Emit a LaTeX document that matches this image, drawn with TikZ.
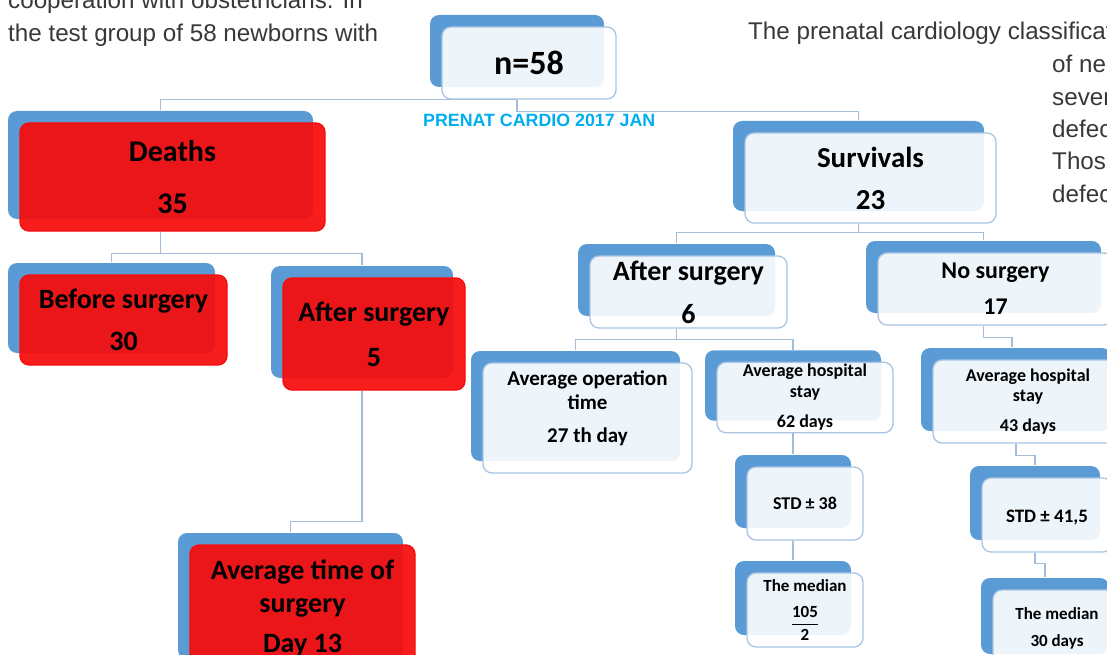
\documentclass[tikz,border=0pt]{standalone}
\usepackage{fontspec}
\usepackage{amsmath}
\usetikzlibrary{shadows,backgrounds}
\newfontfamily\boxfont{Carlito}
\newfontfamily\pagefont{Liberation Sans}
\definecolor{backblue}{HTML}{5B9BD5}
\definecolor{paleedge}{HTML}{A9C4E2}
\definecolor{linkblue}{HTML}{A3BCDA}
\definecolor{deathred}{HTML}{F70C0C}
\definecolor{stampcyan}{HTML}{00AEEF}
\definecolor{pagegray}{HTML}{383838}

\begin{document}
\begin{tikzpicture}[x=1pt,y=-1pt]
\tikzstyle{box}=[rounded corners=9pt, line width=1.3pt, align=center, inner sep=2pt,
  general shadow={fill=backblue, fill opacity=1, shadow xshift=-12pt, shadow yshift=12pt},
  fill opacity=0.9, text opacity=1]
\tikzstyle{pale}=[box, fill=white, draw=paleedge]
\tikzstyle{dead}=[box, fill=deathred, draw=deathred, fill opacity=0.93]
\tikzstyle{link}=[draw=linkblue, line width=1.5pt]
\tikzstyle{pagetext}=[font=\pagefont\fontsize{24.2}{24.2}\selectfont, text=pagegray, inner sep=0pt, anchor=base west]
\useasboundingbox (0,0) rectangle (1107,655);
\clip (0,0) rectangle (1107,655);

% page text around the chart
\node[pagetext] (introA) at (8,9) {cooperation with obstetricians. In};
\node[pagetext] (introB) at (8,42) {the test group of 58 newborns with};
\node[pagetext] (classA) at (748,40) {The prenatal cardiology classificat};
\node[pagetext] (classB) at (1052,73) {of ne};
\node[pagetext] (classC) at (1052,106) {sever};
\node[pagetext] (classD) at (1052,138) {defec};
\node[pagetext] (classE) at (1052,170) {Those};
\node[pagetext] (classF) at (1052,202) {defec};
\node[font=\pagefont\bfseries\fontsize{17.8}{17.8}\selectfont, text=stampcyan, anchor=base west, inner sep=0pt] (stamp) at (423,127) {PRENAT CARDIO 2017 JAN};

% root
\node[pale, minimum width=174pt, minimum height=72pt, font=\boxfont\bfseries\fontsize{34}{34}\selectfont] (n58) at (529,63) {n=58};

% deaths branch
\node[dead, minimum width=305pt, minimum height=108pt, font=\boxfont\bfseries\fontsize{30}{52}\selectfont] (deaths) at (172.5,177) {Deaths\\35};
\node[dead, minimum width=207pt, minimum height=90pt, font=\boxfont\bfseries\fontsize{28}{42}\selectfont] (before) at (123.5,320) {Before surgery\\30};
\node[dead, minimum width=182pt, minimum height=112pt, font=\boxfont\bfseries\fontsize{28}{45}\selectfont] (after5) at (374,334) {After surgery\\5};
\node[dead, minimum width=225pt, minimum height=126pt, font=\boxfont\bfseries\fontsize{28}{33}\selectfont] (avgtime) at (302.5,608) {Average time of\\surgery\\[7pt]Day 13};

% survivals branch
\node[pale, minimum width=251pt, minimum height=90pt, font=\boxfont\bfseries\fontsize{29}{42}\selectfont] (surv) at (870.5,178) {Survivals\\23};
\node[pale, minimum width=197pt, minimum height=72pt, font=\boxfont\bfseries\fontsize{28}{43}\selectfont] (after6) at (688.5,292) {After surgery\\6};
\node[pale, minimum width=209pt, minimum height=110pt, font=\boxfont\bfseries\fontsize{21}{24}\selectfont] (avgop) at (587.5,418) {Average operation\\time\\[9pt]27 th day\\[-2pt]\mbox{}};
\node[pale, minimum width=176pt, minimum height=69pt, font=\boxfont\bfseries\fontsize{18}{21}\selectfont] (hosp62) at (805,397.5) {Average hospital\\stay\\[9pt]62 days};
\node[pale, minimum width=116pt, minimum height=73pt, font=\boxfont\bfseries\fontsize{18}{18}\selectfont] (std38) at (805,503.5) {STD ± 38};
\node[pale, minimum width=116pt, minimum height=74pt, font=\boxfont\bfseries\fontsize{17}{20}\selectfont] (med105) at (805,610) {The median\\[14pt]$\dfrac{\text{105}}{\text{2}}$};
\node[pale, minimum width=235pt, minimum height=72pt, font=\boxfont\bfseries\fontsize{24}{36}\selectfont] (nosurg) at (995.5,289) {No surgery\\17};
\node[pale, minimum width=190pt, minimum height=83pt, font=\boxfont\bfseries\fontsize{18}{20}\selectfont] (hosp43) at (1028,401.5) {Average hospital\\stay\\[10pt]43 days};
\node[pale, minimum width=130pt, minimum height=74pt, font=\boxfont\bfseries\fontsize{19}{19}\selectfont] (std415) at (1047,515) {\mbox{}\\[-1pt]STD ± 41,5};
\node[pale, minimum width=128pt, minimum height=76pt, font=\boxfont\bfseries\fontsize{17}{27}\selectfont] (med30) at (1057,628) {The median\\30 days};

% connectors, behind the boxes
\begin{scope}[on background layer]
\draw[link] ([xshift=-12pt]n58.south) -| ([xshift=-12pt,yshift=12pt]deaths.north);
\draw[link] ([xshift=-12pt]n58.south) -- ++(0,12) -| ([xshift=-12pt,yshift=12pt]surv.north);
\draw[link] ([xshift=-12pt]deaths.south) -- ++(0,22) -| ([xshift=-12pt,yshift=12pt]before.north);
\draw[link] ([xshift=-12pt]deaths.south) -- ++(0,22) -| ([xshift=-12pt,yshift=12pt]after5.north);
\draw[link] ([xshift=-12pt]after5.south) -- ++(0,131) -| ([xshift=-12pt,yshift=12pt]avgtime.north);
\draw[link] ([xshift=-12pt]surv.south) -- ++(0,9) -| ([xshift=-12pt,yshift=12pt]after6.north);
\draw[link] ([xshift=-12pt]surv.south) -- ++(0,9) -| ([xshift=-12pt,yshift=12pt]nosurg.north);
\draw[link] ([xshift=-12pt]after6.south) -- ++(0,11) -| ([xshift=-12pt,yshift=12pt]avgop.north);
\draw[link] ([xshift=-12pt]after6.south) -- ++(0,11) -| ([xshift=-12pt,yshift=12pt]hosp62.north);
\draw[link] ([xshift=-12pt]hosp62.south) -- ([xshift=-12pt,yshift=12pt]std38.north);
\draw[link] ([xshift=-12pt]std38.south) -- ([xshift=-12pt,yshift=12pt]med105.north);
\draw[link] ([xshift=-12pt]nosurg.south) -- ++(0,12) -| ([xshift=-16pt,yshift=12pt]hosp43.north);
\draw[link] ([xshift=-12pt]hosp43.south) -- ++(0,12) -| ([xshift=-12pt,yshift=12pt]std415.north);
\draw[link] ([xshift=-12pt]std415.south) -- ++(0,11) -| ([xshift=-12pt,yshift=12pt]med30.north);
\end{scope}

\end{tikzpicture}
\end{document}
